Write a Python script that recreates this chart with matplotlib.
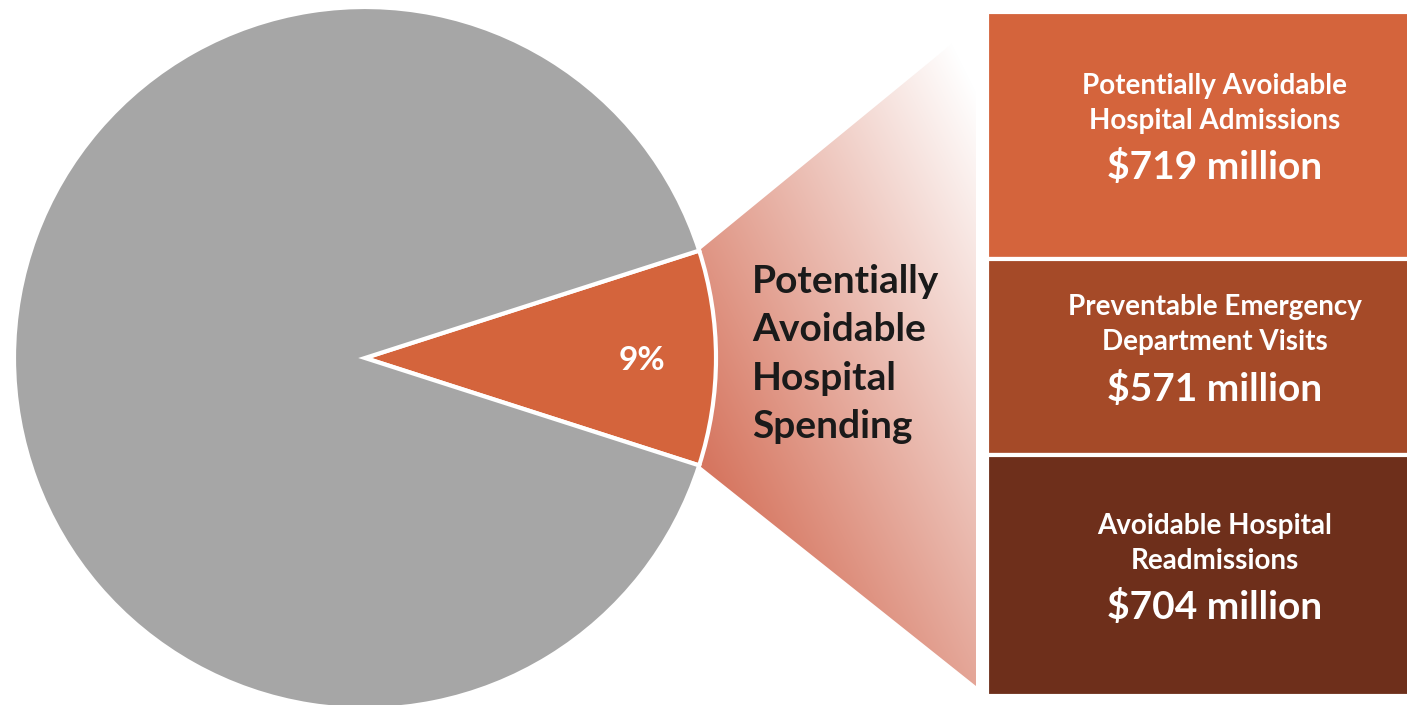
import matplotlib
matplotlib.use("Agg")
import matplotlib.pyplot as plt
import numpy as np
from matplotlib.patches import Polygon

plt.rcParams["font.family"] = ["Lato", "DejaVu Sans"]

# pie: share of hospital spending (slice angle)
pie_shares = [9.9, 90.1]
pie_colors = ["#D4643C", "#A6A6A6"]
pie_label = "9%"
center_label = ["Potentially", "Avoidable", "Hospital", "Spending"]

# stacked breakdown, $ million
categories = [
    "Potentially Avoidable\nHospital Admissions",
    "Preventable Emergency\nDepartment Visits",
    "Avoidable Hospital\nReadmissions",
]
values = [719, 571, 704]
value_labels = ["$719 million", "$571 million", "$704 million"]
bar_colors = ["#D4643C", "#A54A28", "#6E2F1B"]

W, H = 1407, 705
fig = plt.figure(figsize=(W / 100, H / 100), dpi=100)

# main axes in pixel units
ax = fig.add_axes([0, 0, 1, 1])
cx, cy, r = 365, 358, 351
wedges, _ = ax.pie(pie_shares, colors=pie_colors, center=(cx, cy), radius=r,
                   startangle=-pie_shares[0] * 360 / 200, counterclock=True,
                   wedgeprops=dict(edgecolor="white", linewidth=3), frame=True)
for w in wedges:
    w.set_zorder(3)

half = np.radians(pie_shares[0] * 360 / 200)
top_left = (cx + r * np.cos(half), cy - r * np.sin(half))
bot_left = (cx + r * np.cos(half), cy + r * np.sin(half))
poly = Polygon([top_left, (976, 24), (976, 686), bot_left], closed=True,
               facecolor="none", edgecolor="none")
ax.add_patch(poly)

# diagonal fade from the slice towards the boxes
gx, gy = np.meshgrid(np.arange(680, 980), np.arange(20, 690))
p = np.clip(1 - 0.0022 * (gx - 705) + 0.0011 * (gy - 460), 0, 1)
dark = np.array([214, 118, 96]) / 255
img = np.ones(gx.shape + (4,))
for k in range(3):
    img[..., k] = 1 - p * (1 - dark[k])
im = ax.imshow(img, extent=(680, 980, 690, 20), zorder=1, interpolation="bilinear")
im.set_clip_path(poly)
ax.set_xlim(0, W)
ax.set_ylim(H, 0)
ax.set_aspect("equal")
ax.axis("off")

ax.text(cx + r * 0.79, cy + 2, pie_label, color="white", fontsize=24,
        fontweight="bold", ha="center", va="center", zorder=4)
ax.text(752, 354, "\n".join(center_label), color="#1A1A1A", fontsize=28,
        fontweight="bold", ha="left", va="center", linespacing=1.47, zorder=4)

# stacked boxes
bx = fig.add_axes([987 / W, 9 / H, (1425 - 987) / W, 684 / H])
bottoms = np.concatenate([[0], np.cumsum(values)[:-1]])
bx.bar([0] * len(values), values, bottom=bottoms, width=1.0, color=bar_colors,
       edgecolor="white", linewidth=3)
bx.set_xlim(-0.5, 0.5)
bx.set_ylim(sum(values), 0)
bx.axis("off")
for cat, val, lab, b in zip(categories, values, value_labels, bottoms):
    mid = b + val / 2
    bx.annotate(cat, (0.02, mid), xytext=(0, 23), textcoords="offset points",
                ha="center", va="center", color="white", fontsize=20,
                fontweight="bold", linespacing=1.45)
    bx.annotate(lab, (0.02, mid), xytext=(0, -23), textcoords="offset points",
                ha="center", va="center", color="white", fontsize=28,
                fontweight="bold")

fig.savefig("out.png", dpi=100)
